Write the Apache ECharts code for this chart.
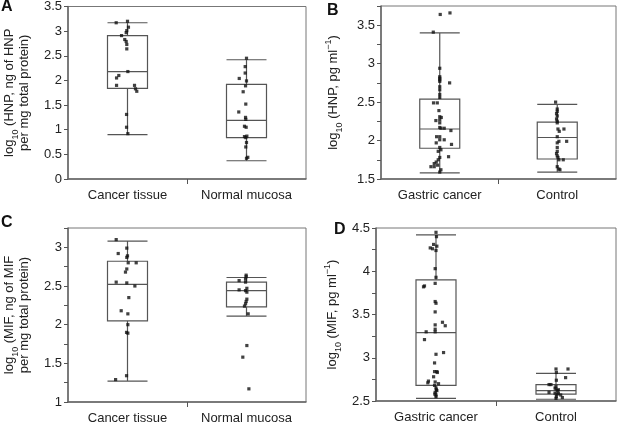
<!DOCTYPE html>
<html><head><meta charset="utf-8">
<script src="https://cdn.jsdelivr.net/npm/echarts@6/dist/echarts.min.js"></script>
<style>html,body{margin:0;padding:0;background:#fff}#c{width:621px;height:426px}</style>
</head><body><div id="c"></div>
<script>
// ---------- categories ----------
const catsTissue = ['Cancer tissue', 'Normal mucosa'];
const catsSerum = ['Gastric cancer', 'Control'];

// ---------- box statistics [min, Q1, median, Q3, max] ----------
const boxA = [[0.90, 1.84, 2.18, 2.91, 3.17], [0.37, 0.84, 1.19, 1.92, 2.42]];
const boxB = [[1.58, 1.90, 2.15, 2.54, 3.40], [1.59, 1.76, 2.04, 2.24, 2.47]];
const boxC = [[1.27, 2.05, 2.52, 2.82, 3.08], [2.11, 2.23, 2.44, 2.55, 2.61]];
const boxD = [[2.53, 2.68, 3.29, 3.90, 4.42], [2.52, 2.58, 2.62, 2.69, 2.82]];

// ---------- individual values and horizontal jitter (category units) ----------
const valA1 = [3.17, 3.20, 3.08, 3.01, 2.97, 2.91, 2.83, 2.79, 2.73, 2.64, 2.18, 2.10, 2.05, 1.90, 1.90, 1.83, 1.78, 1.31, 1.05, 0.92];
const jitA1 = [-0.095, 0, 0.008, -0.006, -0.011, -0.05, -0.023, -0.011, -0.006, -0.006, 0.003, -0.073, -0.092, -0.092, 0.059, 0.067, 0.078, -0.008, -0.008, 0.003];
const valA2 = [2.45, 2.28, 2.15, 2.04, 1.99, 1.89, 1.77, 1.52, 1.36, 1.25, 1.21, 1.07, 1.05, 0.87, 0.86, 0.84, 0.74, 0.65, 0.44, 0.42];
const jitA2 = [0, -0.011, -0.011, -0.061, 0, -0.008, -0.028, -0.006, -0.065, -0.008, -0.006, -0.017, -0.003, 0.003, -0.017, -0.006, 0, -0.006, 0.011, 0];

const valB1 = [3.66, 3.64, 3.41, 2.94, 2.83, 2.81, 2.79, 2.77, 2.75, 2.70, 2.66, 2.60, 2.56, 2.49, 2.49, 2.39, 2.31, 2.30, 2.26, 2.27, 2.23, 2.17, 2.16, 2.16, 2.13, 2.05, 2.05, 2.01, 2.01, 1.95, 1.97, 1.91, 1.88, 1.86, 1.78, 1.79, 1.75, 1.72, 1.70, 1.68, 1.66, 1.66, 1.62, 1.59];
const jitB1 = [0.087, 0.004, -0.055, 0, 0, 0, 0, 0, 0.084, 0, 0, 0, 0, -0.053, -0.021, -0.007, 0, 0.013, -0.033, 0, 0, 0, 0.01, 0.038, 0.095, -0.027, 0, 0, 0.038, 0.1, -0.03, 0, 0.01, -0.013, 0, 0.075, -0.013, -0.03, -0.047, -0.018, -0.047, -0.075, 0.01, 0];
const valB2 = [2.50, 2.41, 2.38, 2.35, 2.32, 2.28, 2.25, 2.23, 2.15, 2.15, 2.12, 2.05, 1.99, 1.99, 1.97, 1.91, 1.86, 1.83, 1.80, 1.78, 1.75, 1.75, 1.66, 1.63, 1.62];
const jitB2 = [-0.014, 0, 0, -0.006, 0, -0.006, 0, 0, 0.057, 0.006, 0.017, 0, 0.014, 0.08, 0, 0, 0, -0.006, 0, 0.006, 0.051, 0.014, 0, 0.014, 0.023];

const valC1 = [3.10, 2.99, 2.92, 2.89, 2.87, 2.80, 2.80, 2.72, 2.68, 2.55, 2.54, 2.50, 2.35, 2.18, 2.14, 2.00, 1.90, 1.89, 1.34, 1.29];
const jitC1 = [-0.095, -0.006, -0.078, 0, -0.006, 0.006, 0.073, -0.006, -0.017, -0.095, -0.006, 0.062, 0.011, -0.053, 0.003, 0.003, -0.008, 0.003, -0.008, -0.1];
const valC2 = [2.64, 2.62, 2.59, 2.57, 2.55, 2.47, 2.45, 2.44, 2.42, 2.33, 2.30, 2.27, 2.24, 2.14, 1.73, 1.58, 1.17];
const jitC2 = [-0.003, -0.003, -0.008, -0.062, -0.008, 0.003, -0.062, -0.008, 0.003, 0.003, -0.003, -0.008, -0.017, 0.014, 0.003, -0.031, 0.02];

const valD1 = [4.45, 4.40, 4.31, 4.29, 4.27, 4.26, 4.24, 4.03, 3.93, 3.86, 3.83, 3.82, 3.65, 3.63, 3.53, 3.41, 3.37, 3.38, 3.33, 3.30, 3.30, 3.21, 3.06, 3.04, 2.94, 2.84, 2.84, 2.83, 2.78, 2.73, 2.71, 2.72, 2.70, 2.68, 2.65, 2.63, 2.62, 2.60, 2.58, 2.57, 2.55];
const jitD1 = [0, 0.004, -0.02, 0.007, -0.048, -0.029, 0, -0.007, 0, -0.007, -0.096, -0.104, -0.007, 0, -0.007, 0.054, 0.077, -0.007, -0.007, -0.007, -0.082, -0.096, 0.063, 0, -0.012, -0.012, 0.007, 0.011, -0.02, -0.063, -0.068, -0.007, 0.021, -0.012, 0, 0.003, 0.007, -0.007, -0.01, 0, 0];
const valD2 = [2.87, 2.87, 2.83, 2.77, 2.74, 2.69, 2.69, 2.67, 2.65, 2.64, 2.63, 2.62, 2.60, 2.59, 2.59, 2.58, 2.57, 2.55, 2.54, 2.53];
const jitD2 = [0, 0.1, 0.003, 0.08, 0.003, -0.058, -0.042, 0, -0.008, 0, 0.02, 0.011, -0.058, -0.008, 0.02, 0.01, 0.039, 0.003, 0.053, 0];

// ---------- axis ranges and names ----------
const yRanges = [[0, 3.5, 0.5], [1.5, 3.75, 0.25], [1, 3.25, 0.25], [2.5, 4.5, 0.25]];
const panelLetters = ['A', 'B', 'C', 'D'];
const yNames = [
  '{t|log}{s|10}{t| (HNP, ng of HNP}\n{t|per mg total protein)}',
  '{t|log}{s|10}{t| (HNP, pg ml}{p|−1}{t|)}',
  '{t|log}{s|10}{t| (MIF, ng of MIF}\n{t|per mg total protein)}',
  '{t|log}{s|10}{t| (MIF, pg ml}{p|−1}{t|)}'
];

// ---------- layout ----------
const grids = [
  {left: 68, top: 6, width: 238, height: 173},
  {left: 381, top: 6, width: 235, height: 173},
  {left: 68, top: 228, width: 238, height: 174},
  {left: 376, top: 228, width: 240, height: 173}
];
const nameGaps = [36, 40, 36, 36];
const letterPos = [[1, -1], [327, 3], [1, 215], [334, 222]];

const FONT = "'Liberation Sans', Arial, sans-serif";
const panels = [
  {cats: catsTissue, box: boxA, vals: [valA1, valA2], jit: [jitA1, jitA2]},
  {cats: catsSerum, box: boxB, vals: [valB1, valB2], jit: [jitB1, jitB2]},
  {cats: catsTissue, box: boxC, vals: [valC1, valC2], jit: [jitC1, jitC2]},
  {cats: catsSerum, box: boxD, vals: [valD1, valD2], jit: [jitD1, jitD2]}
];

const option = {
  animation: false,
  backgroundColor: '#fff',
  title: [], grid: [], xAxis: [], yAxis: [], series: []
};

panels.forEach((p, i) => {
  option.title.push({
    text: panelLetters[i], left: letterPos[i][0], top: letterPos[i][1], padding: 0,
    textStyle: {fontFamily: FONT, fontWeight: 'bold', fontSize: 16, color: '#111'}
  });
  option.grid.push(Object.assign({show: true, borderColor: '#777', borderWidth: 1, backgroundColor: 'transparent'}, grids[i]));
  // category axis (box plots + labels)
  option.xAxis.push({
    type: 'category', gridIndex: i, data: p.cats, boundaryGap: true,
    axisLine: {lineStyle: {color: '#666', width: 1.5}},
    axisTick: {show: false},
    axisLabel: {margin: 10, fontFamily: FONT, fontSize: 13, color: '#222'},
    splitLine: {show: false}
  });
  // value axis for jittered points
  option.xAxis.push({
    type: 'value', gridIndex: i, min: 0, max: 2, position: 'bottom',
    axisLine: {show: false}, axisLabel: {show: false}, splitLine: {show: false},
    axisTick: {show: true, customValues: [1], length: 5, lineStyle: {color: '#555'}}
  });
  const r = yRanges[i];
  option.yAxis.push({
    type: 'value', gridIndex: i, min: r[0], max: r[1], interval: r[2],
    name: yNames[i], nameLocation: 'middle', nameGap: nameGaps[i], nameRotate: 90,
    nameTextStyle: {
      fontFamily: FONT, fontSize: 13, color: '#222', lineHeight: 15,
      rich: {
        t: {fontFamily: FONT, fontSize: 13, color: '#222', lineHeight: 15},
        s: {fontFamily: FONT, fontSize: 9, color: '#222', lineHeight: 15, verticalAlign: 'bottom', padding: [0, 0, -3, 0]},
        p: {fontFamily: FONT, fontSize: 9, color: '#222', lineHeight: 15, verticalAlign: 'top', padding: [-2, 0, 0, 0]}
      }
    },
    axisLine: {show: true, lineStyle: {color: '#666', width: 1.5}},
    axisTick: {show: true, length: 4, lineStyle: {color: '#555'}},
    axisLabel: {
      margin: 6, fontFamily: FONT, fontSize: 13, color: '#222',
      formatter: v => (Math.abs(v * 2 - Math.round(v * 2)) < 1e-6 ? String(+v.toFixed(2)) : '')
    },
    splitLine: {show: false}
  });
  option.series.push({
    type: 'boxplot', xAxisIndex: 2 * i, yAxisIndex: i, data: p.box,
    boxWidth: [40, 40], silent: true, z: 2,
    itemStyle: {color: '#fff', borderColor: '#555', borderWidth: 1.2}
  });
  const pts = [];
  p.vals.forEach((arr, g) => arr.forEach((v, k) => pts.push([g + 0.5 + p.jit[g][k], v])));
  option.series.push({
    type: 'scatter', xAxisIndex: 2 * i + 1, yAxisIndex: i, data: pts,
    symbol: 'rect', symbolSize: 3.2, silent: true, z: 5,
    itemStyle: {color: '#111'}
  });
});

const chart = echarts.init(document.getElementById('c'), null, {renderer: 'canvas'});
chart.setOption(option);
</script>
</body></html>
